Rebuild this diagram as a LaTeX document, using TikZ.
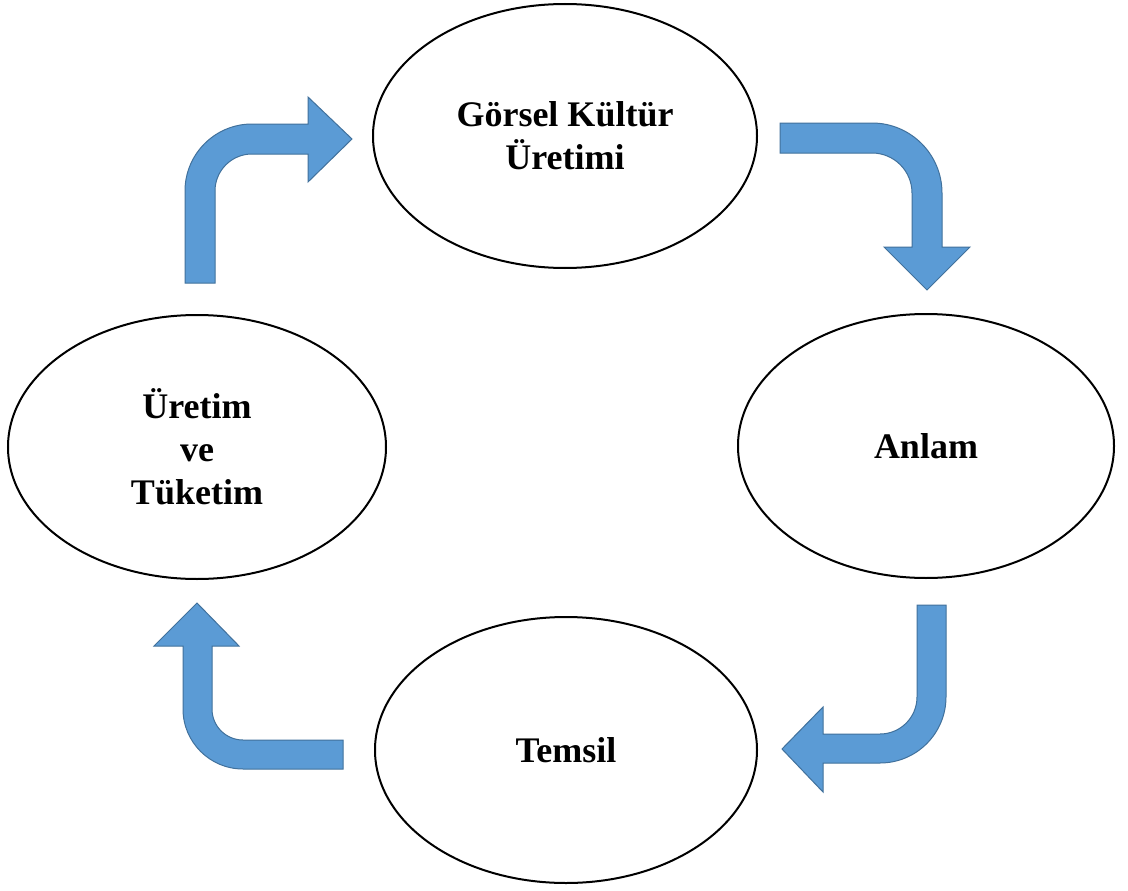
\documentclass[tikz,border=0pt]{standalone}
\usepackage{fontspec}
\setmainfont{Liberation Serif}
\usetikzlibrary{shapes.geometric}
\definecolor{arrfill}{HTML}{5B9BD5}
\definecolor{arrline}{HTML}{41719C}
\begin{document}
\begin{tikzpicture}[x=1pt,y=-1pt,
  stage/.style={draw=black, line width=2pt, ellipse, inner sep=0pt, align=center,
    font=\fontsize{36}{43}\selectfont\bfseries},
  blockarrow/.style={fill=arrfill, draw=arrline, line width=1pt, line join=miter}]
\useasboundingbox[fill=white] (0,0) rectangle (1128,891);
\node[stage, minimum width=384pt, minimum height=264pt] (gk) at (565,136) {Görsel Kültür\\Üretimi};
\node[stage, minimum width=376pt, minimum height=264pt] (an) at (926,446) {Anlam};
\node[stage, minimum width=382pt, minimum height=266pt] (te) at (566,750) {Temsil};
\node[stage, minimum width=378pt, minimum height=264pt] (ut) at (197,447) {Üretim\\ve\\Tüketim};
% top-left arrow (Üretim ve Tüketim -> Görsel Kültür Üretimi)
\draw[blockarrow] (185,283) -- (185,191) arc[start angle=180, end angle=270, radius=67]
  -- (308,124) -- (308,97) -- (352,139) -- (308,182) -- (308,154) -- (252,154)
  arc[start angle=270, end angle=180, radius=37] -- (215,283) -- cycle;
% top-right arrow (Görsel Kültür Üretimi -> Anlam)
\draw[blockarrow] (780,123) -- (872,123) arc[start angle=270, end angle=360, radius=70]
  -- (942,247) -- (970,247) -- (927,290) -- (884,247) -- (912,247) -- (912,193)
  arc[start angle=0, end angle=-90, radius=40] -- (780,153) -- cycle;
% bottom-right arrow (Anlam -> Temsil)
\draw[blockarrow] (946,605) -- (946,697) arc[start angle=0, end angle=90, radius=66]
  -- (823,763) -- (823,792) -- (782,749) -- (823,707) -- (823,734) -- (880,734)
  arc[start angle=90, end angle=0, radius=37] -- (917,605) -- cycle;
% bottom-left arrow (Temsil -> Üretim ve Tüketim)
\draw[blockarrow] (343,769) -- (243,769) arc[start angle=90, end angle=180, radius=60]
  -- (183,646) -- (154,646) -- (197,603) -- (239,646) -- (212,646) -- (212,709)
  arc[start angle=180, end angle=90, radius=31] -- (343,740) -- cycle;
\end{tikzpicture}
\end{document}
